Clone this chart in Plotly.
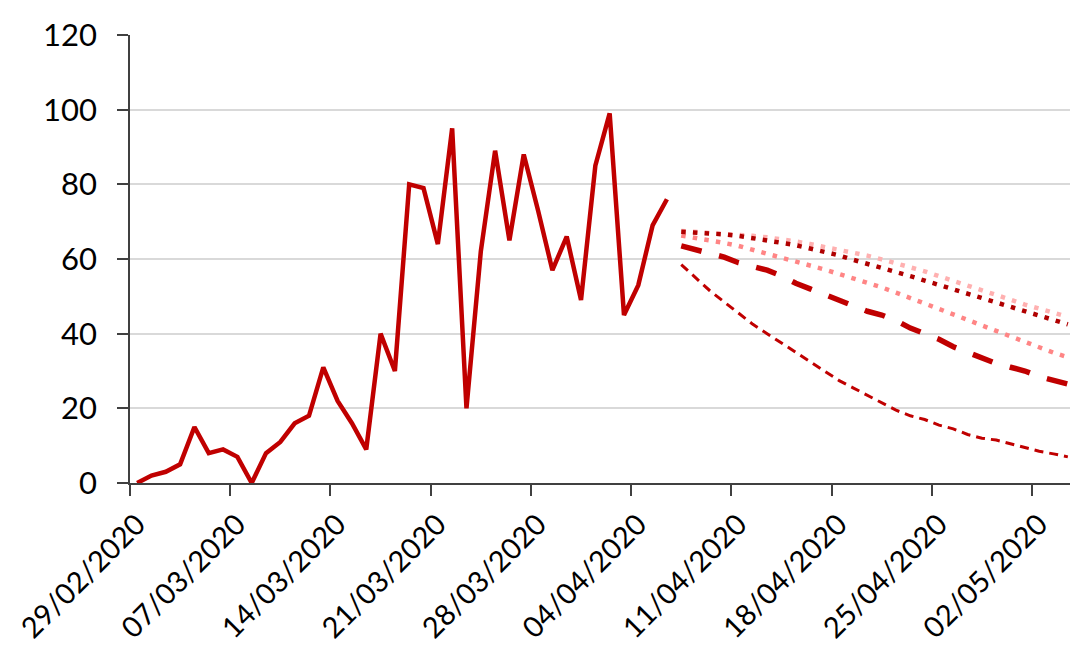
import pandas as pd
import plotly.graph_objects as go

# observed daily values, 29/02/2020 - 06/04/2020
observed = [0, 2, 3, 5, 15, 8, 9, 7, 0, 8, 11, 16, 18, 31, 22, 16, 9, 40, 30, 80,
            79, 64, 95, 20, 62, 89, 65, 88, 73, 57, 66, 49, 85, 99, 45, 53, 69, 76]

# projections, 07/04/2020 - 04/05/2020
proj_upper_light = [67.5, 67.3, 67.1, 66.9, 66.6, 66.2, 65.8, 65.3, 64.7, 64.0, 63.3, 62.5, 61.7, 60.9,
                    59.9, 58.9, 57.8, 56.7, 55.4, 54.2, 53.0, 51.7, 50.4, 49.1, 47.8, 46.6, 45.5, 44.5]
proj_upper_dark = [67.3, 67.1, 66.9, 66.6, 66.2, 65.6, 65.0, 64.3, 63.7, 62.8, 62.0, 61.0, 59.8, 58.8,
                   57.6, 56.5, 55.4, 54.2, 53.2, 52.0, 50.8, 49.5, 48.3, 47.0, 45.8, 44.6, 43.4, 42.5]
proj_mid_pink = [66.3, 65.7, 65.0, 64.3, 63.5, 62.5, 61.5, 60.5, 59.4, 58.3, 57.2, 56.0, 54.9, 53.7,
                 52.4, 51.0, 49.6, 48.1, 46.7, 45.2, 43.7, 42.2, 40.7, 39.2, 37.8, 36.3, 34.9, 33.7]
proj_central = [63.5, 62.5, 61.5, 60.5, 59.0, 58.0, 57.0, 55.5, 53.5, 52.0, 50.5, 49.0, 47.5, 46.0,
                45.0, 43.5, 41.5, 40.0, 38.5, 36.5, 35.0, 33.5, 32.0, 31.0, 30.0, 28.5, 27.5, 26.5]
proj_low = [58.5, 55.0, 51.5, 48.5, 45.5, 42.5, 40.0, 37.5, 35.0, 32.5, 30.0, 27.5, 25.5, 23.5,
            21.5, 19.5, 18.0, 17.0, 15.5, 14.5, 13.0, 12.0, 11.5, 10.5, 9.5, 8.5, 7.8, 7.0]

# points sit in the middle of each day's slot, like an Excel date axis
obs_dates = pd.date_range("2020-02-29 12:00", periods=len(observed), freq="D")
proj_dates = pd.date_range("2020-04-07 12:00", periods=len(proj_low), freq="D")

RED = "#C00000"
DOTS = "4.5px,7.2px"

fig = go.Figure()
fig.add_trace(go.Scatter(x=proj_dates, y=proj_upper_light, mode="lines",
                         line=dict(color="#FFB0B0", width=4.5, dash=DOTS)))
fig.add_trace(go.Scatter(x=proj_dates, y=proj_mid_pink, mode="lines",
                         line=dict(color="#FF8585", width=4.5, dash=DOTS)))
fig.add_trace(go.Scatter(x=proj_dates, y=proj_upper_dark, mode="lines",
                         line=dict(color="#B00000", width=4.5, dash=DOTS)))
fig.add_trace(go.Scatter(x=proj_dates, y=proj_central, mode="lines",
                         line=dict(color=RED, width=5.5, dash="21px,18px")))
fig.add_trace(go.Scatter(x=proj_dates, y=proj_low, mode="lines",
                         line=dict(color=RED, width=3, dash="9px,6px")))
fig.add_trace(go.Scatter(x=obs_dates, y=observed, mode="lines",
                         line=dict(color=RED, width=4.5)))

# the page body has an 8px margin, so the figure is sized to fit the window
fig.update_layout(
    width=1070, height=651,
    margin=dict(l=122, r=3, t=27, b=176),
    plot_bgcolor="white", paper_bgcolor="white",
    showlegend=False,
    font=dict(family="Lato", size=31, color="black"),
)
fig.update_xaxes(
    type="date",
    range=["2020-02-29", "2020-05-05"],
    tick0="2020-02-29", dtick=7 * 86400000,
    tickformat="%d/%m/%Y", tickangle=-45, tickfont=dict(size=29),
    ticklabeloverflow="allow", automargin=False, ticklabelshift=7,
    ticks="outside", ticklen=11, tickwidth=1.5, tickcolor="#404040",
    showline=True, linecolor="#404040", linewidth=1.5,
    showgrid=False, zeroline=False,
)
fig.update_yaxes(
    range=[0, 120], dtick=20, automargin=False,
    ticks="outside", ticklen=11, tickwidth=1.5, tickcolor="#404040",
    showline=True, linecolor="#404040", linewidth=1.5,
    gridcolor="#D9D9D9", gridwidth=1.5, zeroline=False,
    ticklabelstandoff=14,
)

fig.write_html("out.html")
